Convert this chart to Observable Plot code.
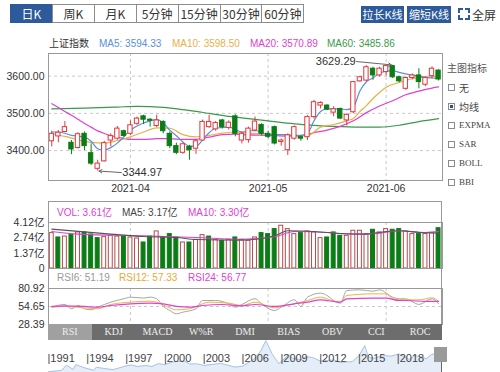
<!DOCTYPE html>
<html><head><meta charset="utf-8">
<script src="https://cdn.jsdelivr.net/npm/d3@7"></script>
<script src="https://cdn.jsdelivr.net/npm/@observablehq/plot@0.6"></script>
<style>
body{margin:0;background:#fff;font-family:"Liberation Sans",Arial,sans-serif;}
#root{position:relative;width:500px;height:372px;overflow:hidden;background:#fff}
.a{position:absolute;white-space:nowrap}
.tab{position:absolute;top:4px;height:19px;border:1px solid #8c8c8c;box-sizing:border-box;font-size:12px;line-height:17px;text-align:center;color:#333;font-family:"Noto Sans CJK SC",sans-serif;background:#fff}
.btn{position:absolute;top:6px;height:17px;background:#2c5a9a;color:#fff;font-size:11px;line-height:17px;text-align:center;font-family:"Noto Sans CJK SC",sans-serif}
.lg{position:absolute;font-size:10px;line-height:12px;white-space:nowrap}
.cb{position:absolute;left:448px;width:7px;height:7px;border:1px solid #8a8a8a;box-sizing:border-box;background:#fff}
.it{position:absolute;left:459px;font-size:9px;line-height:11px;color:#444;font-family:"Liberation Serif",serif}
.bt{position:absolute;top:324px;height:16px;font-size:10px;line-height:16px;text-align:center;color:#eee;font-family:"Liberation Serif",serif}
svg{position:absolute;left:0}
</style></head>
<body><div id="root"></div>
<script>
// ---------- data ----------
const dates = ["2021-03-16","2021-03-17","2021-03-18","2021-03-19","2021-03-22","2021-03-23","2021-03-24","2021-03-25","2021-03-26","2021-03-29","2021-03-30","2021-03-31",
"2021-04-01","2021-04-02","2021-04-06","2021-04-07","2021-04-08","2021-04-09","2021-04-12","2021-04-13","2021-04-14","2021-04-15","2021-04-16","2021-04-19","2021-04-20","2021-04-21","2021-04-22","2021-04-23","2021-04-26","2021-04-27","2021-04-28","2021-04-29","2021-04-30",
"2021-05-06","2021-05-07","2021-05-10","2021-05-11","2021-05-12","2021-05-13","2021-05-14","2021-05-17","2021-05-18","2021-05-19","2021-05-20","2021-05-21","2021-05-24","2021-05-25","2021-05-26","2021-05-27","2021-05-28","2021-05-31",
"2021-06-01","2021-06-02","2021-06-03","2021-06-04","2021-06-07","2021-06-08","2021-06-09","2021-06-10","2021-06-11"];
const open  = [3425,3438,3450,3421,3407,3445,3393,3351,3371,3427,3432,3452,3445,3472,3492,3483,3466,3477,3445,3412,3394,3410,3405,3427,3463,3457,3481,3461,3492,3427,
               3428,3454,3469,3445,3463,3423,3401,3432,3436,3436,3490,3521,3521,3502,3512,3481,3503,3586,3588,3620,3602,3611,3627,3597,3566,3595,3602,3577,3600,3615];
const high  = [3452,3454,3478,3427,3448,3450,3418,3374,3425,3445,3465,3455,3480,3490,3495,3486,3495,3480,3450,3420,3420,3414,3430,3482,3495,3478,3484,3480,3496,3450,
               3463,3490,3472,3452,3466,3431,3445,3466,3440,3494,3535,3531,3523,3518,3514,3499,3586,3600,3628,3624,3624,3628,3629.29,3600,3598,3606,3620,3598,3625,3617];
const low   = [3410,3421,3448,3389,3404,3400,3360,3344.97,3369,3410,3428,3436,3440,3468,3470,3463,3462,3445,3405,3389,3390,3374,3390,3425,3460,3452,3458,3455,3437,3418,
               3420,3450,3440,3432,3415,3412,3387,3428,3425,3427,3485,3512,3508,3491,3484,3466,3499,3584,3585,3589,3598,3600,3594,3582,3562,3590,3566,3572,3593,3587];
const close = [3445,3448,3463,3403,3444,3412,3365,3365,3420,3439,3459,3439,3468,3486,3483,3480,3481,3452,3412,3394,3417,3401,3425,3477,3477,3474,3463,3475,3445,3445,
               3459,3478,3445,3437,3419,3427,3441,3463,3432,3490,3530,3528,3510,3511,3486,3496,3584,3597,3624,3602,3620,3627,3597,3586,3595,3602,3584,3595,3620,3591];
// moving averages: [index, value]
const ma5  = [[0,3450],[1,3450],[3,3441],[5,3436],[6,3425],[7,3405],[8,3401],[9,3408],[10,3420],[11,3437],[12,3455],[13,3466],[15,3480],[16,3483],[17,3474],[18,3455],[19,3440],[20,3423],[21,3412],[22,3412],[23,3428],[24,3448],[25,3460],[27,3463],[29,3450],[31,3454],[33,3443],[35,3443],[37,3441],[38,3441],[39,3446],[40,3480],[41,3505],[42,3512],[44,3512],[45,3510],[46,3517],[47,3560],[48,3585],[49,3595],[50,3608],[51,3613],[52,3615],[53,3610],[54,3606],[56,3600],[58,3595],[59,3594]];
const ma10 = [[0,3446],[2,3438],[4,3429],[6,3422],[8,3420],[10,3427],[12,3437],[14,3450],[16,3461],[18,3460],[20,3443],[22,3437],[24,3441],[26,3447],[28,3450],[30,3447],[32,3445],[35,3443],[37,3439],[39,3440],[41,3463],[43,3470],[45,3480],[46,3486],[47,3505],[48,3521],[49,3540],[50,3556],[51,3570],[53,3583],[55,3593],[57,3597],[59,3598.5]];
const ma20 = [[0,3526],[1,3516],[2,3505],[3,3495],[4,3484],[5,3473],[6,3463],[7,3453],[8,3446],[10,3436],[12,3430],[14,3430],[16,3432],[18,3432],[20,3430],[22,3430],[24,3436],[26,3443],[28,3444],[30,3442],[33,3441],[36,3439],[38,3440],[40,3448],[42,3455],[44,3465],[46,3480],[48,3502],[50,3520],[52,3534],[54,3550],[56,3560],[58,3568],[59,3571]];
const ma60 = [[0,3512],[5,3514],[10,3517],[13,3519],[17,3516],[20,3510],[24,3500],[27,3492],[30,3486],[33,3480],[37,3472],[40,3468],[43,3465],[47,3463],[50,3463],[53,3468],[56,3478],[59,3486]];
const maNames  = ["MA5","MA10","MA20","MA60"];
const maValues = ["3594.33","3598.50","3570.89","3485.86"];
const priceTicks = [3400,3500,3600];
// volume (亿)
const vol = [3.17,2.78,2.86,3.02,3.23,3.23,3.05,2.72,2.81,2.93,2.86,2.86,2.78,2.69,2.33,2.86,3.32,2.81,3.08,2.78,2.33,2.33,2.57,2.99,2.86,2.57,2.48,2.57,2.78,2.57,
             2.48,2.78,3.17,3.08,3.53,3.83,3.53,3.08,3.17,3.32,3.23,2.72,2.78,3.23,2.93,2.93,3.38,3.38,3.08,3.47,3.23,3.53,3.47,3.53,3.32,3.08,3.08,3.08,3.17,3.61];
const volUp = [1,0,1,0,1,0,0,0,1,1,1,0,1,1,0,0,1,0,0,0,1,0,1,1,0,1,0,1,0,1,
               1,1,0,0,0,1,1,1,0,1,1,1,0,0,0,1,1,1,1,0,1,1,0,0,1,1,0,1,1,0];
const vma5  = [[0,3.53],[9,3.08],[14,2.86],[19,2.78],[22,2.6],[29,2.54],[34,2.93],[36,3.38],[40,3.32],[44,3.14],[48,3.08],[51,3.32],[53,3.38],[56,3.23],[59,3.17]];
const vma10 = [[0,3.32],[4,3.08],[14,2.93],[22,2.78],[29,2.62],[34,2.84],[37,3.32],[42,3.23],[46,3.08],[50,3.17],[53,3.38],[57,3.23],[59,3.30]];
const volTicks = [0,1.37,2.74,4.12];
const volHeader = [["VOL: 3.61亿","#e040d0"],["MA5: 3.17亿","#444"],["MA10: 3.30亿","#e040d0"]];
// RSI
const rsi6  = [[0,53.6],[2,57.6],[3,51.3],[4,56.1],[5,51.3],[6,49.8],[7,53.6],[9,61],[11,66],[12,68.3],[14,67],[15,68.3],[16,66],[17,55],[18,48.8],[19,44],[20,46.4],[22,51.3],[23,63.4],[25,63.4],[27,58.6],[28,53.6],[29,57.6],[31,66],[32,58.6],[34,48.8],[35,53.6],[37,64.4],[38,54.7],[39,68.3],[41,74.1],[42,70.7],[43,63.4],[44,59.5],[45,78],[47,79],[49,77],[50,79],[52,68.3],[53,65.9],[54,65.9],[56,57.6],[58,65.9],[59,58.6]];
const rsi12 = [[0,53.6],[2,54.7],[5,52.6],[7,51.3],[9,57.6],[12,61],[15,62.4],[16,61],[18,52.6],[19,49.8],[21,51.3],[22,54.7],[24,61],[27,59.5],[29,56.1],[31,61],[34,52.6],[35,54.7],[37,58.6],[39,63.4],[41,68.3],[43,62.5],[44,61],[45,70.7],[49,73.1],[51,73.1],[52,65.9],[54,64.4],[56,64.4],[58,67.3],[59,62.4]];
const rsi24 = [[0,54.7],[2,55.6],[5,54.7],[7,53.6],[9,56.1],[12,58.6],[15,59.5],[17,58.6],[19,54.7],[21,53.6],[23,56.1],[26,57.6],[29,55.5],[31,57.6],[34,54.7],[37,58.6],[39,61],[41,64.4],[44,61],[45,65.9],[49,66.8],[51,66.8],[53,63.4],[54,63.4],[57,62],[59,62]];
const rsiTicks = [28.39,54.65,80.92];
const rsiHeader = [["RSI6: 51.19","#9a9a9a"],["RSI12: 57.33","#e8a93a"],["RSI24: 56.77","#e040d0"]];
// tabs & labels
const periodTabs = ["日K","周K","月K","5分钟","15分钟","30分钟","60分钟"];
const indicatorTabs = ["RSI","KDJ","MACD","W%R","DMI","BIAS","OBV","CCI","ROC"];
const mainIndicators = ["无","均线","EXPMA","SAR","BOLL","BBI"];
// long-term history (year, index level) for the navigator
const histYear = [1991,1992,1992.4,1992.9,1993.1,1993.8,1994.5,1994.7,1995.5,1996,1996.9,1997.4,1997.9,1998.5,1999,1999.5,2000,2000.6,2001.5,2001.9,2002.5,2003,2004.3,2005.4,2006,2006.9,2007.4,2007.8,2008.3,2008.8,2009.6,2009.8,2010.5,2010.9,2011.5,2012,2013.1,2013.5,2014.5,2014.99,2015.45,2015.7,2016.1,2016.9,2017.5,2018.1,2018.9,2019.3,2019.9,2020.2,2020.6,2021.1,2021.45];
const histVal  = [150,400,1400,600,1500,900,400,1000,700,550,1200,1450,1150,1350,1150,1700,1500,2050,2200,1650,1650,1350,1750,1050,1200,2600,4100,6124,3500,1700,3450,2800,2400,3100,2800,2200,2400,1950,2100,3200,5170,3000,2700,3250,3150,3550,2500,3280,2900,2650,3450,3700,3600];
const histLabels = [1991,1994,1997,2000,2003,2006,2009,2012,2015,2018];

// ---------- layout helpers ----------
const root = document.getElementById("root");
function el(cls, html, css){const d=document.createElement("div");d.className=cls;d.innerHTML=html;Object.assign(d.style,css||{});root.appendChild(d);return d;}
const RED="#e2373c", GREEN="#0b7d16", VRED="#b54a4a", GRID="#c8c8c8";
const FONT = "Liberation Sans, Arial, sans-serif";
const xDom = [-0.5, 59.6];
const monthStarts = dates.map((d,i)=>i).filter(i=>i>0 && dates[i].slice(5,7)!==dates[i-1].slice(5,7));
const ln = (pts,color,w=1.1)=>Plot.line(pts,{x:d=>d[0],y:d=>d[1],stroke:color,strokeWidth:w,curve:"monotone-x"});
const baseStyle = {background:"transparent",overflow:"visible",fontSize:"10px",fontFamily:FONT,color:"#333"};

// ---------- header ----------
periodTabs.forEach((t,k)=>{
  const d=el("tab",t,{left:(10+k*41.9)+"px",width:"43px"});
  if(k===0){d.style.background="#2c5a9a";d.style.color="#fff";d.style.borderColor="#2c5a9a";}
});
el("btn","拉长K线",{left:"361px",width:"43px"});
el("btn","缩短K线",{left:"407px",width:"44px"});
[[458,8,"borderTop","borderLeft"],[465,8,"borderTop","borderRight"],[458,15,"borderBottom","borderLeft"],[465,15,"borderBottom","borderRight"]].forEach(([l,t,a,b])=>{
  const d=el("a","",{left:l+"px",top:t+"px",width:"3px",height:"3px"});d.style[a]="2px solid #2c5a9a";d.style[b]="2px solid #2c5a9a";
});
el("a","全屏",{left:"472px",top:"6px",fontSize:"12px",lineHeight:"17px",color:"#333",fontFamily:"Noto Sans CJK SC"});

// main legend
el("lg","上证指数",{left:"49px",top:"37px",color:"#333",fontFamily:"Noto Sans CJK SC",fontSize:"10px"});
const maColors=["#5b8fd9","#e8b04a","#e040d0","#3a9a4a"];
const maLeft=[99,172,250,327];
maNames.forEach((n,k)=>el("lg",n+": "+maValues[k],{left:maLeft[k]+"px",top:"38px",color:maColors[k]}));

// right indicator list
el("a","主图指标",{left:"447px",top:"62px",fontSize:"10px",lineHeight:"12px",color:"#555",fontFamily:"Noto Sans CJK SC"});
const itemY=[87,106.5,125.5,144.5,163.5,182];
mainIndicators.forEach((n,k)=>{
  const c=el("cb","",{top:(itemY[k]-3.5)+"px"});
  if(k===1){c.innerHTML='<div style="position:absolute;left:1px;top:1px;width:3px;height:3px;background:#2c4f86"></div>';}
  el("it",n,{top:(itemY[k]-5.5)+"px",fontFamily:/[A-Z]/.test(n)?"Liberation Serif":"Noto Sans CJK SC",fontSize:/[A-Z]/.test(n)?"9px":"10px"});
});

// ---------- main candlestick chart ----------
const candles = dates.map((d,i)=>({i,o:open[i],h:high[i],l:low[i],c:close[i],up:close[i]>=open[i]}));
const hiI = high.indexOf(d3.max(high)), loI = low.indexOf(d3.min(low));
const hiPt = [{i:hiI,v:high[hiI]}], loPt=[{i:loI,v:low[loI]}];
const main = Plot.plot({
  width:500,height:146,marginLeft:48,marginRight:58,marginTop:0,marginBottom:19,
  style:baseStyle,
  x:{domain:xDom,axis:null,label:null},
  y:{domain:[3319.6,3660.9],axis:null,label:null},
  color:{type:"identity"},
  marks:[
    Plot.gridX(monthStarts,{stroke:GRID,strokeOpacity:1,strokeDasharray:"3,3"}),
    Plot.gridY(priceTicks,{stroke:GRID,strokeOpacity:1,strokeDasharray:"3,3"}),
    ln(ma60,maColors[3],1.2),
    ln(ma20,maColors[2],1.2),
    ln(ma10,maColors[1],1.2),
    ln(ma5,maColors[0],1.2),
    Plot.ruleX(candles,{x:"i",y1:"l",y2:"h",stroke:d=>d.up?RED:GREEN,strokeWidth:1}),
    Plot.rect(candles,{x1:d=>d.i-0.33,x2:d=>d.i+0.33,y1:"o",y2:"c",fill:d=>d.up?"#fff":GREEN,stroke:d=>d.up?RED:GREEN,strokeWidth:1}),
    Plot.arrow(hiPt,{x1:d=>d.i-5.5,y1:d=>d.v+10,x2:d=>d.i-0.2,y2:d=>d.v+1,stroke:"#666",strokeWidth:1,headLength:5}),
    Plot.text(hiPt,{x:d=>d.i-5.5,y:d=>d.v+10,text:d=>d.v.toFixed(2),textAnchor:"end",dx:-1,fill:"#333",fontSize:11}),
    Plot.arrow(loPt,{x1:d=>d.i+3.6,y1:d=>d.v-4,x2:d=>d.i+0.2,y2:d=>d.v,stroke:"#666",strokeWidth:1,headLength:5}),
    Plot.text(loPt,{x:d=>d.i+3.6,y:d=>d.v-4,text:d=>d.v.toFixed(2),textAnchor:"start",dx:1,fill:"#333",fontSize:11}),
    Plot.axisY(priceTicks,{tickSize:0,tickPadding:4,tickFormat:d3.format(".2f"),fontSize:10.5,label:null}),
    Plot.axisX(monthStarts,{tickSize:0,tickPadding:4,tickFormat:i=>dates[i].slice(0,7),fontSize:10.5,label:null}),
    Plot.frame({stroke:"#999"})
  ]
});
main.style.top="53px"; root.appendChild(main);

// ---------- lower panels box ----------
el("a","",{left:"48px",top:"201px",width:"394px",height:"123px",borderTop:"1px solid #999",borderLeft:"1px solid #999",borderRight:"1px solid #999",boxSizing:"border-box"});
const hdrLeft=[57,122,188];
volHeader.forEach(([t,c],k)=>el("lg",t,{left:hdrLeft[k]+"px",top:"206.5px",color:c,fontFamily:FONT+", Noto Sans CJK SC"}));
const rsiLeft=[57,119,188];
rsiHeader.forEach(([t,c],k)=>el("lg",t,{left:rsiLeft[k]+"px",top:"272px",color:c}));

// ---------- volume ----------
const vbars = vol.map((v,i)=>({i,v,up:volUp[i]===1}));
const volP = Plot.plot({
  width:500,height:67,marginLeft:48,marginRight:58,marginTop:21,marginBottom:0,
  style:baseStyle,
  x:{domain:xDom,axis:null,label:null},
  y:{domain:[0,4.12],axis:null,label:null},
  color:{type:"identity"},
  marks:[
    Plot.gridX(monthStarts,{stroke:GRID,strokeOpacity:1,strokeDasharray:"3,3"}),
    Plot.rect(vbars,{x1:d=>d.i-0.3,x2:d=>d.i+0.3,y1:0,y2:"v",fill:d=>d.up?"#fff":GREEN,stroke:d=>d.up?VRED:GREEN,strokeWidth:1}),
    ln(vma10,"#e040d0",1.1),
    ln(vma5,"#555",1.1),
    Plot.axisY(volTicks,{tickSize:0,tickPadding:4,tickFormat:d=>d===0?"0":d.toFixed(2)+"亿",fontSize:10.5,fontFamily:FONT+", Noto Sans CJK SC",label:null}),
    Plot.frame({stroke:"#999"})
  ]
});
volP.style.top="201px"; root.appendChild(volP);

// ---------- RSI ----------
const rsiP = Plot.plot({
  width:500,height:56,marginLeft:48,marginRight:58,marginTop:20,marginBottom:0,
  style:baseStyle,
  x:{domain:xDom,axis:null,label:null},
  y:{domain:[28.39,80.92],axis:null,label:null},
  marks:[
    Plot.gridX(monthStarts,{stroke:GRID,strokeOpacity:1,strokeDasharray:"3,3"}),
    Plot.gridY([rsiTicks[1]],{stroke:GRID,strokeOpacity:1,strokeDasharray:"3,3"}),
    ln(rsi6,"#a6a6a6",1),
    ln(rsi12,"#efb445",1),
    ln(rsi24,"#e040d0",1.2),
    Plot.axisY(rsiTicks,{tickSize:0,tickPadding:4,tickFormat:d=>d.toFixed(2),fontSize:10.5,label:null}),
    Plot.frame({stroke:"#999"})
  ]
});
rsiP.style.top="268px"; root.appendChild(rsiP);

// ---------- indicator tab bar ----------
el("a","",{left:"48px",top:"324px",width:"394px",height:"16px",background:"#6d6d6d"});
const tw=394/indicatorTabs.length;
indicatorTabs.forEach((t,k)=>el("bt",t,{left:(48+k*tw)+"px",width:tw+"px",background:k===0?"#a0a0a0":"transparent"}));

// ---------- navigator ----------
const hist = histYear.map((y,k)=>({y,v:histVal[k]}));
const nav = Plot.plot({
  width:500,height:32,marginLeft:48,marginRight:58,marginTop:0,marginBottom:0,
  style:baseStyle,
  x:{domain:[1991,2021.45],axis:null,label:null},
  y:{domain:[0,6150],axis:null,label:null},
  marks:[
    Plot.areaY(hist,{x:"y",y:"v",fill:"#e4edf8"}),
    Plot.line(hist,{x:"y",y:"v",stroke:"#a9c4e6",strokeWidth:1}),
    Plot.text(histLabels,{x:d=>d,frameAnchor:"bottom",dy:-10.5,text:d=>"|"+d,textAnchor:"start",fill:"#444",fontSize:11,dx:-1})
  ]
});
nav.style.top="340px"; root.appendChild(nav);
el("a","",{left:"434px",top:"347px",width:"13px",height:"15px",background:"#9a9a9a"});
el("a","",{left:"441px",top:"362px",width:"1px",height:"10px",background:"#666"});
</script>
</body></html>
